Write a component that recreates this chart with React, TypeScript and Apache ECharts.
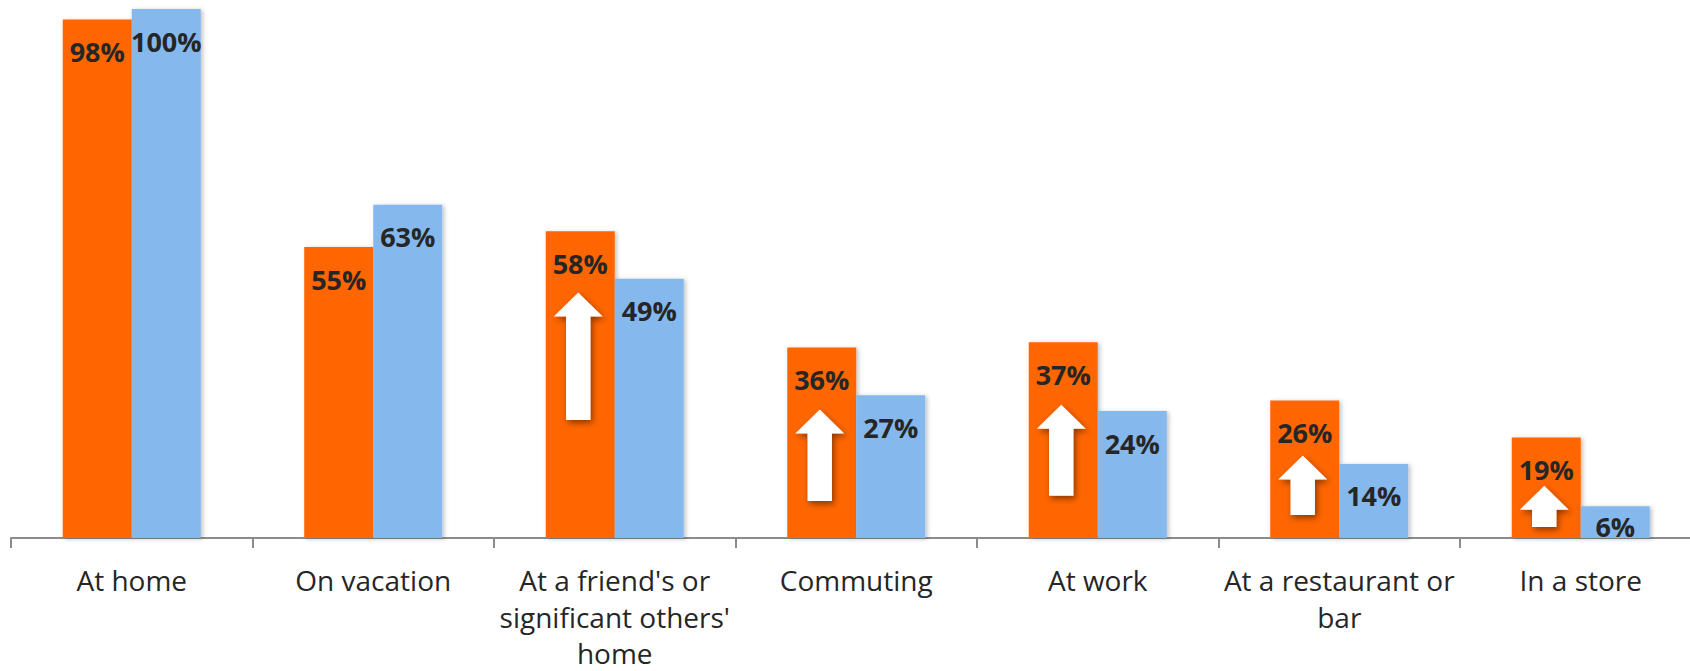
import React, { useEffect, useRef } from "react";
import * as echarts from "echarts";

const categories = [
  "At home",
  "On vacation",
  "At a friend's or\nsignificant others'\nhome",
  "Commuting",
  "At work",
  "At a restaurant or\nbar",
  "In a store",
];
const orangeValues = [98, 55, 58, 36, 37, 26, 19];
const blueValues = [100, 63, 49, 27, 24, 14, 6];

// Upward arrows drawn inside the orange bars (value units)
const arrowCategoryIndex = [2, 3, 4, 5, 6];
const arrowTop = [46.4, 24.3, 25.2, 15.6, 9.9];
const arrowBottom = [22.3, 7.0, 8.0, 4.35, 2.1];

const ORANGE = "#FF6600";
const BLUE = "#85B8EC";
const TEXT = "#262626";
const BAR_W = 69;

export default function App() {
  const ref = useRef<HTMLDivElement>(null);
  useEffect(() => {
    if (!ref.current) return;
    const chart = echarts.init(ref.current, undefined, { renderer: "svg" });
    const barShadow = {
      shadowBlur: 4,
      shadowColor: "rgba(0,0,0,0.25)",
      shadowOffsetX: 2,
      shadowOffsetY: 1,
    };
    const valueLabel = {
      show: true,
      position: "insideTop" as const,
      distance: 18,
      formatter: "{c}%",
      color: TEXT,
      fontFamily: "Open Sans",
      fontWeight: "bold" as const,
      fontSize: 27,
      lineHeight: 28,
    };
    chart.setOption({
      animation: false,
      backgroundColor: "#ffffff",
      grid: {
        left: 11,
        right: -11.5,
        top: 9,
        bottom: 133,
        containLabel: false,
        outerBoundsMode: "none",
      },
      xAxis: {
        type: "category",
        data: categories,
        axisLine: { lineStyle: { color: "#8c8c8c", width: 2 } },
        axisTick: { show: true, length: 10, lineStyle: { color: "#8c8c8c", width: 2 } },
        axisLabel: {
          interval: 0,
          margin: 24,
          color: TEXT,
          fontFamily: "Open Sans",
          fontSize: 28,
          lineHeight: 36.5,
        },
      },
      yAxis: { type: "value", min: 0, max: 100, show: false, splitLine: { show: false } },
      series: [
        {
          name: "Orange",
          type: "bar",
          data: orangeValues,
          barWidth: BAR_W,
          barGap: "0%",
          itemStyle: { color: ORANGE, ...barShadow },
          label: valueLabel,
          z: 2,
        },
        {
          name: "Blue",
          type: "bar",
          data: blueValues.map((v, i) =>
            i === blueValues.length - 1 ? { value: v, label: { distance: 6 } } : v
          ),
          barWidth: BAR_W,
          barGap: "0%",
          itemStyle: { color: BLUE, ...barShadow },
          label: valueLabel,
          z: 2,
        },
        {
          name: "Arrows",
          type: "custom",
          z: 5,
          encode: { x: 0, y: [1, 2] },
          data: arrowCategoryIndex.map((c, i) => [c, arrowTop[i], arrowBottom[i]]),
          renderItem: (_params: any, api: any) => {
            const cat = api.value(0);
            const top = api.coord([cat, api.value(1)]);
            const bot = api.coord([cat, api.value(2)]);
            const cx = top[0] - BAR_W / 2 - 2;
            const headH = 24;
            const headHalf = 24.5;
            const shaftHalf = 12.2;
            const tipY = top[1];
            const baseY = tipY + headH;
            const botY = bot[1];
            return {
              type: "polygon",
              shape: {
                points: [
                  [cx, tipY],
                  [cx + headHalf, baseY],
                  [cx + shaftHalf, baseY],
                  [cx + shaftHalf, botY],
                  [cx - shaftHalf, botY],
                  [cx - shaftHalf, baseY],
                  [cx - headHalf, baseY],
                ],
              },
              style: {
                fill: "#ffffff",
                shadowBlur: 6,
                shadowColor: "rgba(0,0,0,0.45)",
                shadowOffsetX: 2,
                shadowOffsetY: 3,
              },
            };
          },
        },
      ],
    });
    return () => chart.dispose();
  }, []);
  return (
    <div
      ref={ref}
      style={{ position: "absolute", left: 0, top: 0, width: 1690, height: 671, background: "#fff" }}
    />
  );
}
